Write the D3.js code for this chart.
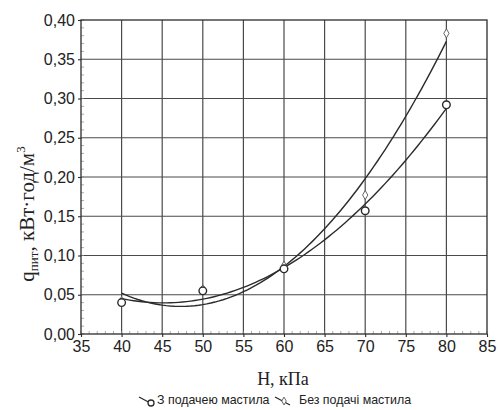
<!DOCTYPE html>
<html>
<head>
<meta charset="utf-8">
<script src="https://cdn.jsdelivr.net/npm/d3@7"></script>
<style>
  html, body { margin: 0; padding: 0; background: #fff; }
  svg { display: block; }
</style>
</head>
<body>
<svg id="chart" width="498" height="410"></svg>
<script>
// Pressure values, kPa
const pressure = [40, 50, 60, 70, 80];
// Specific energy consumption with lubricant supply
const withLube = [0.040, 0.055, 0.083, 0.157, 0.292];
// Specific energy consumption without lubricant supply
const withoutLube = [0.042, 0.057, 0.087, 0.177, 0.383];
const xTicks = [35, 40, 45, 50, 55, 60, 65, 70, 75, 80, 85];
const yTicks = [0, 0.05, 0.10, 0.15, 0.20, 0.25, 0.30, 0.35, 0.40];
const seriesNames = ["З подачею мастила", "Без подачі мастила"];

const svg = d3.select("#chart");
const m = { left: 81, right: 11, top: 20, bottom: 76 };
const W = 498, H = 410;

const x = d3.scaleLinear().domain([35, 85]).range([m.left, W - m.right]);
const y = d3.scaleLinear().domain([0, 0.40]).range([H - m.bottom, m.top]);

const ink = "#2b2b2b";

// least-squares quadratic trend
function quadFit(xs, ys) {
  const n = xs.length;
  let s = [0, 0, 0, 0, 0], t = [0, 0, 0];
  for (let i = 0; i < n; i++) {
    const xi = xs[i];
    for (let k = 0; k < 5; k++) s[k] += Math.pow(xi, k);
    for (let k = 0; k < 3; k++) t[k] += ys[i] * Math.pow(xi, k);
  }
  const A = [[s[0], s[1], s[2], t[0]], [s[1], s[2], s[3], t[1]], [s[2], s[3], s[4], t[2]]];
  for (let i = 0; i < 3; i++) {
    for (let j = i + 1; j < 3; j++) {
      const f = A[j][i] / A[i][i];
      for (let k = i; k < 4; k++) A[j][k] -= f * A[i][k];
    }
  }
  const c = [0, 0, 0];
  for (let i = 2; i >= 0; i--) {
    let v = A[i][3];
    for (let k = i + 1; k < 3; k++) v -= A[i][k] * c[k];
    c[i] = v / A[i][i];
  }
  return xv => c[0] + c[1] * xv + c[2] * xv * xv;
}

// grid
const grid = svg.append("g");
grid.selectAll("line.gx").data(xTicks.slice(1, -1)).join("line")
  .attr("x1", d => x(d)).attr("x2", d => x(d))
  .attr("y1", y(0)).attr("y2", y(0.40))
  .attr("stroke", "#4a4a4a").attr("stroke-width", 1.2);
grid.selectAll("line.gy").data(yTicks.slice(1, -1)).join("line")
  .attr("x1", x(35)).attr("x2", x(85))
  .attr("y1", d => y(d)).attr("y2", d => y(d))
  .attr("stroke", "#4a4a4a").attr("stroke-width", 1.2);

// minor ticks
const minorX = d3.range(35, 85.01, 1);
svg.append("g").selectAll("line").data(minorX).join("line")
  .attr("x1", d => x(d)).attr("x2", d => x(d))
  .attr("y1", y(0)).attr("y2", y(0) - 3)
  .attr("stroke", "#888").attr("stroke-width", 0.7);
const minorY = d3.range(0, 0.4001, 0.01);
svg.append("g").selectAll("line").data(minorY).join("line")
  .attr("x1", x(35)).attr("x2", x(35) + 3)
  .attr("y1", d => y(d)).attr("y2", d => y(d))
  .attr("stroke", "#888").attr("stroke-width", 0.7);

// axes
const fmt = d => d3.format(".2f")(d).replace(".", ",");
const xAxis = svg.append("g").attr("transform", `translate(0,${y(0)})`)
  .call(d3.axisBottom(x).tickValues(xTicks).tickSize(3).tickPadding(2));
const yAxis = svg.append("g").attr("transform", `translate(${x(35)},0)`)
  .call(d3.axisLeft(y).tickValues(yTicks).tickFormat(fmt).tickSize(3).tickPadding(3));
[xAxis, yAxis].forEach(a => {
  a.select(".domain").remove();
  a.selectAll("line").attr("stroke", ink).attr("stroke-width", 1.1);
  a.selectAll("text").attr("font-family", "Liberation Sans, Arial, sans-serif")
    .attr("font-size", 16).attr("fill", "#222");
});
xAxis.selectAll("text").attr("dy", "0.8em");

// frame
svg.append("rect")
  .attr("x", x(35)).attr("y", y(0.40))
  .attr("width", x(85) - x(35)).attr("height", y(0) - y(0.40))
  .attr("fill", "none").attr("stroke", ink).attr("stroke-width", 1.3);

// trend curves
const xs = d3.range(40, 80.001, 0.5);
const line = d3.line().x(d => x(d[0])).y(d => y(d[1]));
[withLube, withoutLube].forEach(vals => {
  const f = quadFit(pressure, vals);
  svg.append("path")
    .attr("d", line(xs.map(v => [v, f(v)])))
    .attr("fill", "none").attr("stroke", ink).attr("stroke-width", 1.4);
});

// markers
svg.append("g").selectAll("path").data(pressure.map((p, i) => [p, withoutLube[i]])).join("path")
  .attr("transform", d => `translate(${x(d[0])},${y(d[1])})`)
  .attr("d", d3.symbol(d3.symbolDiamond, 24)())
  .attr("fill", "#fff").attr("stroke", "#555").attr("stroke-width", 0.9);
svg.append("g").selectAll("circle").data(pressure.map((p, i) => [p, withLube[i]])).join("circle")
  .attr("cx", d => x(d[0])).attr("cy", d => y(d[1])).attr("r", 3.8)
  .attr("fill", "#fff").attr("stroke", ink).attr("stroke-width", 1.4);

// axis titles
svg.append("text")
  .attr("x", 283).attr("y", 385)
  .attr("text-anchor", "middle")
  .attr("font-family", "Liberation Serif, Times New Roman, serif")
  .attr("font-size", 18).attr("fill", "#222")
  .text("H, кПа");

const yl = svg.append("text")
  .attr("transform", `translate(34,214) rotate(-90)`)
  .attr("text-anchor", "middle")
  .attr("font-family", "Liberation Serif, Times New Roman, serif")
  .attr("font-size", 21).attr("fill", "#222");
yl.append("tspan").text("q");
yl.append("tspan").attr("font-size", 13).attr("dy", 4).text("пит");
yl.append("tspan").attr("dy", -4).text(", кВт·год/м");
yl.append("tspan").attr("font-size", 13).attr("dy", -9).text("3");

// legend
const lg = svg.append("g").attr("font-family", "Liberation Sans, Arial, sans-serif")
  .attr("font-size", 12.4).attr("fill", "#222");
const items = [
  { x0: 139, tx: 157, name: seriesNames[0], mark: "circle" },
  { x0: 275, tx: 299, name: seriesNames[1], mark: "diamond" }
];
items.forEach(it => {
  lg.append("line").attr("x1", it.x0).attr("y1", 397).attr("x2", it.x0 + 15).attr("y2", 405)
    .attr("stroke", ink).attr("stroke-width", 1.3);
  if (it.mark === "circle") {
    lg.append("circle").attr("cx", it.x0 + 12).attr("cy", 403).attr("r", 3)
      .attr("fill", "#fff").attr("stroke", ink).attr("stroke-width", 1.3);
  } else {
    lg.append("path").attr("transform", `translate(${it.x0 + 9},401)`)
      .attr("d", d3.symbol(d3.symbolDiamond, 18)())
      .attr("fill", "#fff").attr("stroke", "#555").attr("stroke-width", 0.9);
  }
  lg.append("text").attr("x", it.tx).attr("y", 404).text(it.name);
});
</script>
</body>
</html>
